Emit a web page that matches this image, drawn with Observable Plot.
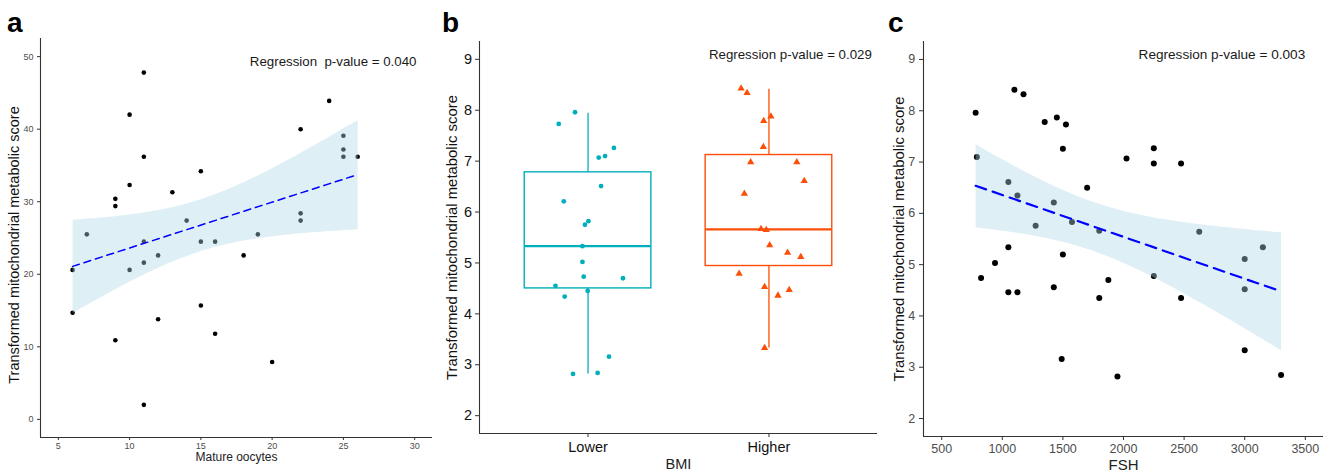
<!DOCTYPE html>
<html><head><meta charset="utf-8">
<script src="https://cdn.jsdelivr.net/npm/d3@7"></script>
<script src="https://cdn.jsdelivr.net/npm/@observablehq/plot@0.6"></script>
<style>
body{margin:0;background:#fff;font-family:"Liberation Sans",Arial,Helvetica,sans-serif;}
#wrap{position:relative;width:1331px;height:473px;overflow:hidden;background:#fff;}
.panel{position:absolute;top:0;}
.letter{position:absolute;font-weight:bold;font-size:28px;line-height:1;color:#000;top:9px;}
</style></head><body><div id="wrap"></div>
<script>
// ---------- Panel a: Mature oocytes ----------
const oocytes = [11,10,24,22,25,25,25,26,11,15,10,13,9,9,14,22,22,7,11,15,16,19,12,18,11,10,6,15,6,12,16,9,20,11];
const scoreA  = [47.8,42.0,43.9,40.0,39.1,37.2,36.2,36.2,36.2,34.2,32.3,31.3,30.4,29.4,27.4,28.4,27.4,25.5,24.5,24.5,24.5,25.5,22.6,22.6,21.6,20.6,20.6,15.7,14.7,13.8,11.8,10.9,7.9,2.0];
const xTicksA = [5,10,15,20,25,30];
const yTicksA = [0,10,20,30,40,50];
const xDomainA = [3.75, 31.25];
const yDomainA = [-2.5, 52.5];
const pLabelA = "Regression  p-value = 0.040";
const xTitleA = "Mature oocytes";

// ---------- Panel b: BMI ----------
const bmiGroups = ["Lower","Higher"];
const bmiPos = [1,2];
const bmiColors = ["#00AFBB","#FC4E07"];
const lowerJitter = [0.928,0.838,1.143,1.094,1.059,1.072,0.866,1.002,0.983,0.969,0.969,0.976,1.193,0.820,0.998,0.871,1.116,1.053,0.917];
const lowerScore  = [7.96,7.73,7.26,7.10,7.07,6.51,6.21,5.82,5.75,5.33,5.02,4.73,4.70,4.55,4.45,4.34,3.16,2.84,2.82];
const higherJitter = [1.846,1.879,2.011,1.971,1.969,1.899,2.154,2.195,1.864,1.956,1.985,2.004,2.103,2.176,1.835,1.976,2.112,2.050,1.976];
const higherScore  = [8.43,8.34,7.88,7.79,7.28,6.98,6.98,6.61,6.36,5.67,5.65,5.35,5.20,5.12,4.79,4.53,4.47,4.36,3.33];
const boxQ1 = [4.50, 4.94];
const boxMedian = [5.33, 5.66];
const boxQ3 = [6.78, 7.12];
const whiskerLow = [2.82, 3.33];
const whiskerHigh = [7.94, 8.41];
const xDomainB = [0.4, 2.6];
const yTicksBC = [2,3,4,5,6,7,8,9];
const yDomainBC = [1.65, 9.35];
const pLabelB = "Regression p-value = 0.029";
const xTitleB = "BMI";

// ---------- Panel c: FSH ----------
const fsh    = [780,1100,1175,1350,1450,1525,1500,790,2250,2250,2025,2475,1700,1050,1125,1425,1275,1575,1800,2625,1050,3150,1500,3000,940,825,1875,2250,1425,3000,1050,1125,1800,2475,1490,3000,1950,3300];
const scoreC = [7.96,8.41,8.32,7.78,7.87,7.73,7.26,7.10,7.27,6.97,7.07,6.97,6.50,6.61,6.35,6.21,5.76,5.83,5.66,5.64,5.34,5.34,5.20,5.11,5.03,4.74,4.70,4.78,4.56,4.52,4.46,4.46,4.35,4.35,3.16,3.33,2.82,2.85];
const xTicksC = [500,1000,1500,2000,2500,3000,3500];
const xDomainC = [350, 3650];
const pLabelC = "Regression p-value = 0.003";
const xTitleC = "FSH";

const yTitle = "Transformed mitochondrial metabolic score";
const font = "'Liberation Sans', Arial, Helvetica, sans-serif";
const axisStroke = "#333333";
const bandFill = "lightblue";
const plain = d => String(d);

const wrap = document.getElementById("wrap");
function place(node, left) {
  node.classList.add("panel");
  node.style.left = left + "px";
  wrap.appendChild(node);
}
function letter(t, left) {
  const d = document.createElement("div");
  d.className = "letter"; d.textContent = t; d.style.left = left + "px";
  wrap.appendChild(d);
}

// Panel a
const ptsA = oocytes.map((x, i) => ({x, y: scoreA[i]}));
const plotA = Plot.plot({
  width: 440, height: 473,
  marginLeft: 40, marginRight: 8, marginTop: 38, marginBottom: 36,
  x: {domain: xDomainA}, y: {domain: yDomainA},
  style: {fontFamily: font, background: "transparent", overflow: "visible"},
  marks: [
    Plot.dot(ptsA, {x: "x", y: "y", r: 2.3, fill: "#000", stroke: "none"}),
    Plot.linearRegressionY(ptsA, {x: "x", y: "y", stroke: "blue", strokeWidth: 1.5, strokeDasharray: "7,5", fill: bandFill, fillOpacity: 0.4, ci: 0.95}),
    Plot.ruleX([xDomainA[0]], {stroke: axisStroke, strokeWidth: 1.1}),
    Plot.ruleY([yDomainA[0]], {stroke: axisStroke, strokeWidth: 1.1}),
    Plot.axisX(xTicksA, {tickSize: 3, tickPadding: 2.5, fontSize: 9, stroke: axisStroke, fill: "#4d4d4d", label: null, tickFormat: plain}),
    Plot.axisY(yTicksA, {tickSize: 3, tickPadding: 4, fontSize: 9, stroke: axisStroke, fill: "#4d4d4d", label: null, tickFormat: plain}),
    Plot.text([pLabelA], {frameAnchor: "top-right", textAnchor: "end", lineAnchor: "top", dx: -16, dy: 18.5, fontSize: 13.3, fill: "#1a1a1a"}),
    Plot.text([xTitleA], {frameAnchor: "bottom", textAnchor: "middle", lineAnchor: "middle", dy: 20, fontSize: 12, fill: "#222"}),
    Plot.text([yTitle], {frameAnchor: "left", textAnchor: "middle", rotate: -90, lineAnchor: "middle", dx: -26, dy: 7, fontSize: 14.5, fill: "#111"})
  ]
});
place(plotA, 0);

// Panel b
const lowerPts = lowerJitter.map((x, i) => ({x, y: lowerScore[i]}));
const higherPts = higherJitter.map((x, i) => ({x, y: higherScore[i]}));
const boxes = bmiGroups.map((g, i) => ({g, pos: bmiPos[i], q1: boxQ1[i], med: boxMedian[i], q3: boxQ3[i], lo: whiskerLow[i], hi: whiskerHigh[i], color: bmiColors[i]}));
const boxHalf = 0.35;
const boxMarks = boxes.flatMap(b => [
  Plot.ruleX([b], {x: "pos", y1: "lo", y2: "hi", stroke: b.color, strokeWidth: 1.3}),
  Plot.rect([b], {x1: d => d.pos - boxHalf, x2: d => d.pos + boxHalf, y1: "q1", y2: "q3", fill: "white", stroke: b.color, strokeWidth: 1.4}),
  Plot.ruleY([b], {y: "med", x1: d => d.pos - boxHalf, x2: d => d.pos + boxHalf, stroke: b.color, strokeWidth: 2.4})
]);
const plotB = Plot.plot({
  width: 440, height: 473,
  marginLeft: 39, marginRight: 3, marginTop: 41, marginBottom: 40,
  x: {domain: xDomainB}, y: {domain: yDomainBC},
  style: {fontFamily: font, background: "transparent", overflow: "visible"},
  marks: [
    ...boxMarks,
    Plot.dot(lowerPts, {x: "x", y: "y", r: 2.4, fill: bmiColors[0], stroke: "none"}),
    Plot.dot(higherPts, {x: "x", y: "y", r: 2.7, symbol: "triangle", fill: bmiColors[1], stroke: "none"}),
    Plot.ruleX([xDomainB[0]], {stroke: axisStroke, strokeWidth: 1.1}),
    Plot.ruleY([yDomainBC[0]], {stroke: axisStroke, strokeWidth: 1.1}),
    Plot.axisX(bmiPos, {tickSize: 4, tickPadding: 4.7, fontSize: 14.5, stroke: axisStroke, fill: "#111", label: null, tickFormat: (d, i) => bmiGroups[bmiPos.indexOf(d)]}),
    Plot.axisY(yTicksBC, {tickSize: 4, tickPadding: 3.3, fontSize: 14.5, stroke: axisStroke, fill: "#111", label: null, tickFormat: plain}),
    Plot.text([pLabelB], {frameAnchor: "top-right", textAnchor: "end", lineAnchor: "top", dx: -5.6, dy: 7.6, fontSize: 13.3, fill: "#1a1a1a"}),
    Plot.text([xTitleB], {frameAnchor: "bottom", textAnchor: "middle", lineAnchor: "middle", dy: 30.7, fontSize: 14.5, fill: "#222"}),
    Plot.text([yTitle], {frameAnchor: "left", textAnchor: "middle", rotate: -90, lineAnchor: "middle", dx: -26.8, dy: 0, fontSize: 14.9, fill: "#111"})
  ]
});
place(plotB, 440);

// Panel c
const ptsC = fsh.map((x, i) => ({x, y: scoreC[i]}));
const plotC = Plot.plot({
  width: 451, height: 473,
  marginLeft: 43, marginRight: 8, marginTop: 41, marginBottom: 37,
  x: {domain: xDomainC}, y: {domain: yDomainBC},
  style: {fontFamily: font, background: "transparent", overflow: "visible"},
  marks: [
    Plot.dot(ptsC, {x: "x", y: "y", r: 3, fill: "#000", stroke: "none"}),
    Plot.linearRegressionY(ptsC, {x: "x", y: "y", stroke: "blue", strokeWidth: 2.2, strokeDasharray: "11,7", fill: bandFill, fillOpacity: 0.4, ci: 0.95}),
    Plot.ruleX([xDomainC[0]], {stroke: axisStroke, strokeWidth: 1.1}),
    Plot.ruleY([yDomainBC[0]], {stroke: axisStroke, strokeWidth: 1.1}),
    Plot.axisX(xTicksC, {tickSize: 4, tickPadding: 4, fontSize: 12.5, stroke: axisStroke, fill: "#4d4d4d", label: null, tickFormat: plain}),
    Plot.axisY(yTicksBC, {tickSize: 4, tickPadding: 4.3, fontSize: 12.5, stroke: axisStroke, fill: "#4d4d4d", label: null, tickFormat: plain}),
    Plot.text([pLabelC], {frameAnchor: "top-right", textAnchor: "end", lineAnchor: "top", dx: -18.3, dy: 8.1, fontSize: 13.6, fill: "#1a1a1a"}),
    Plot.text([xTitleC], {frameAnchor: "bottom", textAnchor: "middle", lineAnchor: "middle", dy: 28.5, fontSize: 15, fill: "#222"}),
    Plot.text([yTitle], {frameAnchor: "left", textAnchor: "middle", rotate: -90, lineAnchor: "middle", dx: -24.5, dy: 0, fontSize: 14.9, fill: "#111"})
  ]
});
place(plotC, 880);

letter("a", 7);
letter("b", 442);
letter("c", 888);
</script>
</body></html>
